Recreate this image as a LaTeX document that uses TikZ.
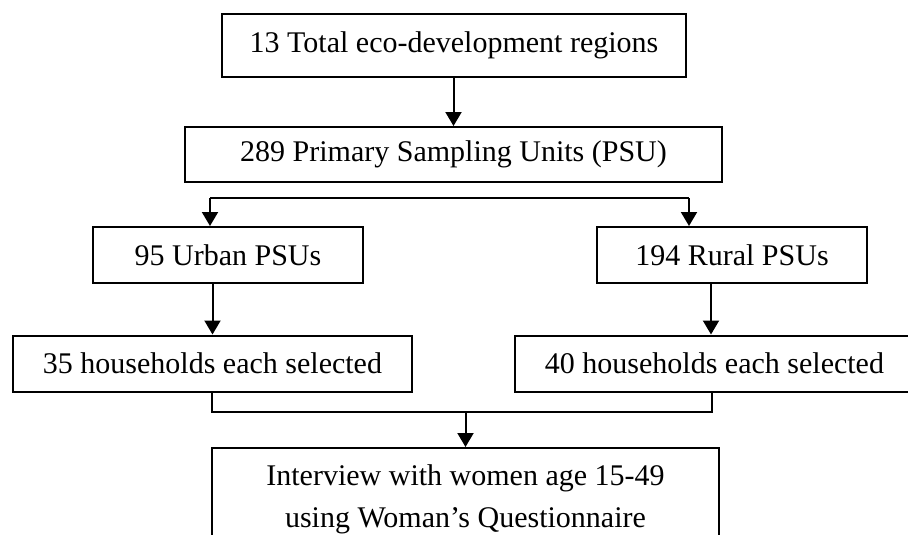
\documentclass[tikz,border=0pt]{standalone}
\usepackage{fontspec}
\setmainfont{Liberation Serif}
\usetikzlibrary{arrows.meta}
\begin{document}
\begin{tikzpicture}[x=1pt,y=-1pt,
  box/.style={draw=black, line width=2pt, rectangle, inner sep=0pt, fill=white},
  txt/.style={font=\fontsize{30}{42}\selectfont, align=center, inner sep=0pt},
  conn/.style={draw=black, line width=2pt},
  arr/.style={conn, -{Triangle[width=16pt,length=14pt]}}]
\useasboundingbox (0,0) rectangle (908,535);
\clip (0,0) rectangle (908,535);
\fill[white] (0,0) rectangle (908,535);
% boxes
\node[box, minimum width=464pt, minimum height=63pt] (top) at (454,45.5) {};
\node[txt] (toptxt) at (top.center) {13 Total eco-development regions};
\node[box, minimum width=537pt, minimum height=55pt] (psu) at (453.5,154.5) {};
\node[txt] (psutxt) at (psu.center) {289 Primary Sampling Units (PSU)};
\node[box, minimum width=270pt, minimum height=56pt] (urban) at (228,255) {};
\node[txt] (urbantxt) at (urban.center) {95 Urban PSUs};
\node[box, minimum width=270pt, minimum height=56pt] (rural) at (732,255) {};
\node[txt] (ruraltxt) at (rural.center) {194 Rural PSUs};
\node[box, minimum width=399pt, minimum height=56pt] (hhu) at (212.5,363.5) {};
\node[txt] (hhutxt) at (hhu.center) {35 households each selected};
\node[box, minimum width=400pt, minimum height=56pt] (hhr) at (715,363.5) {};
\node[txt] (hhrtxt) at (714.5,363.5) {40 households each selected};
\node[box, minimum width=507pt, minimum height=120pt, anchor=north] (final) at (465.5,447) {};
\node[txt] (finaltxt) at (465.5,499.5) {Interview with women age 15-49\\using Woman’s Questionnaire};
% connectors
\coordinate (bl) at (210,198);
\coordinate (br) at (689,198);
\coordinate (rx) at (711,300);
\coordinate (ml) at (212,412);
\coordinate (mr) at (712,412);
\draw[arr] (top.south -| psu.north) -- (psu.north);
\draw[conn] (bl) -- (br);
\draw[arr] (bl) -- (bl |- urban.north);
\draw[arr] (br) -- (br |- rural.north);
\draw[arr] (urban.south -| hhu.north) -- (hhu.north);
\draw[arr] (rural.south -| rx) -- (rx |- hhr.north);
\draw[conn] (hhu.south -| ml) -- (ml) -- (mr) -- (mr |- hhr.south);
\draw[arr] (final.north |- ml) -- (final.north);
\end{tikzpicture}
\end{document}
